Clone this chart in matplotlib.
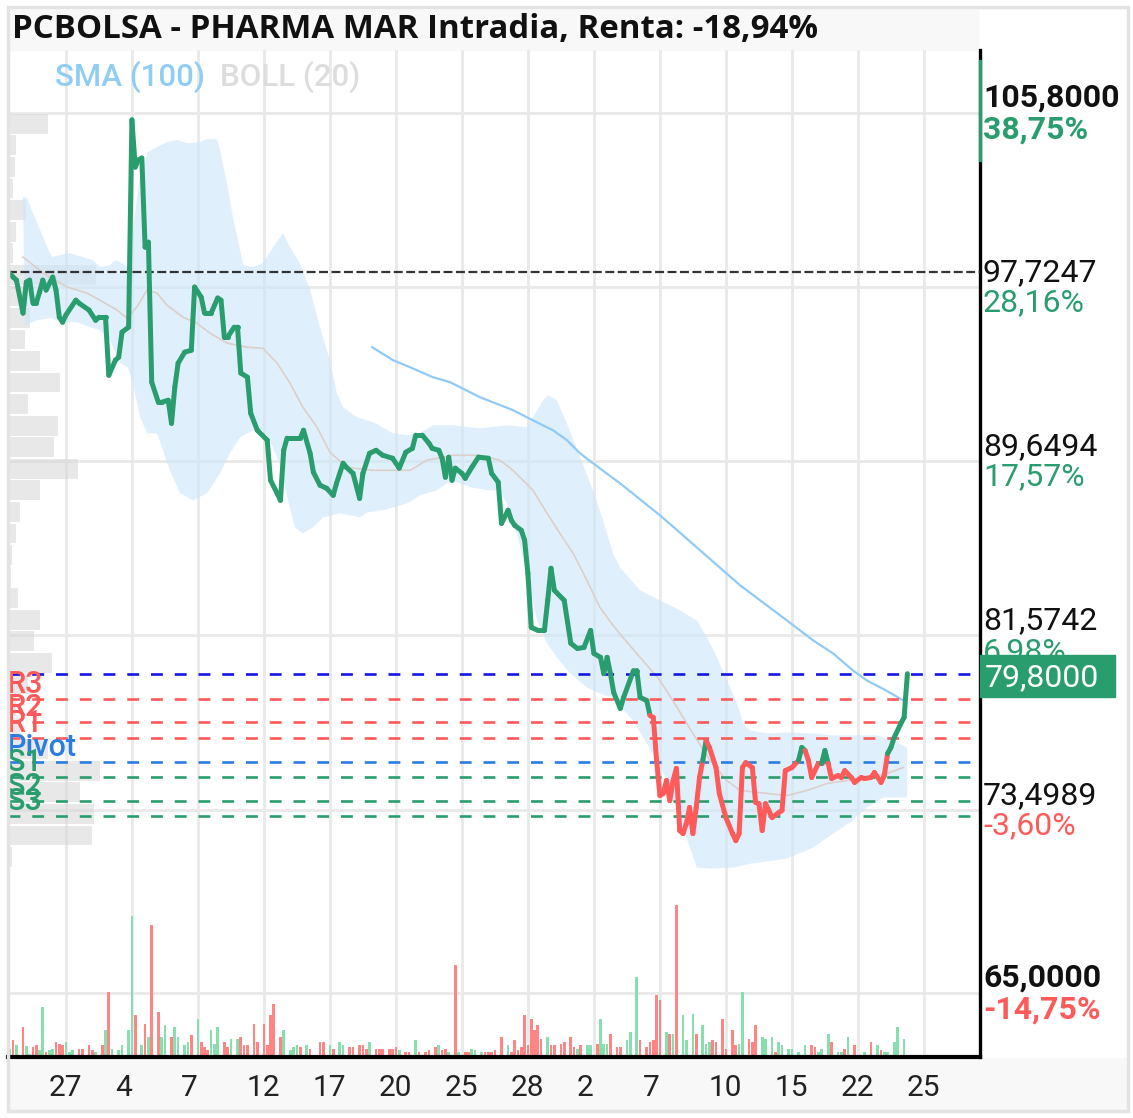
import matplotlib.pyplot as plt
import matplotlib.transforms as mtransforms
import numpy as np
from matplotlib.collections import LineCollection
from matplotlib.patches import Rectangle

W, H = 1133, 1118
plt.rcParams['font.family'] = ['Roboto', 'DejaVu Sans']

# ---- data -------------------------------------------------------------
title = "PCBOLSA - PHARMA MAR Intradia, Renta: -18,94%"
tick_pos = [18 + 20 * k for k in range(14)]
tick_lbl = ['27', '4', '7', '12', '17', '20', '25', '28', '2', '7', '10', '15', '22', '25']

# price line (session index, price)
t = [0, 2, 3, 5, 6, 7, 8, 9, 10, 11, 12, 14, 15, 16, 17, 18, 21, 22, 25, 27, 28, 30, 31, 33, 34, 35, 37,
     38, 39, 40, 41, 42, 43, 44, 46, 47, 49, 50, 51, 52, 54, 56, 57, 59, 60, 62, 64, 65, 66, 67, 69, 70,
     71, 73, 74, 76, 79, 80, 82, 83, 84, 85, 89, 90, 92, 93, 95, 97, 99, 100, 102, 103, 105, 107, 108,
     110, 112, 114, 117, 119, 121, 123, 124, 126, 128, 129, 131, 132, 133, 134, 135, 136, 138, 139, 141,
     143, 146, 147, 149, 150, 152, 153, 154, 156, 157, 158, 159, 161, 163, 164, 165, 166, 169, 171, 173,
     175, 177, 178, 180, 181, 182, 183, 184, 186, 187, 190, 191, 192, 194, 195, 196, 197, 198, 199, 200,
     201, 202, 203, 204, 205, 206, 207, 208, 209, 210, 211, 212, 213, 215, 216, 218, 220, 221, 222, 223,
     224, 226, 227, 228, 229, 230, 231, 232, 234, 235, 236, 238, 240, 241, 242, 243, 244, 246, 247, 248,
     249, 250, 252, 253, 254, 256, 257, 259, 260, 262, 263, 265, 266, 267, 268, 269, 271, 272, 273]
close = [98.52, 98.19, 98.05, 96.52, 97.96, 98.05, 96.98, 96.98, 97.49, 98.05, 97.59, 98.19, 97.59, 96.33,
         96.10, 96.43, 97.12, 96.98, 96.66, 96.19, 96.33, 96.33, 93.64, 94.34, 94.48, 95.64, 95.87,
         105.48, 103.29, 103.62, 103.71, 99.58, 99.81, 93.32, 92.39, 92.39, 92.48, 91.41, 93.09, 94.20,
         94.71, 94.80, 97.73, 97.26, 96.52, 96.52, 97.22, 97.12, 95.41, 95.41, 95.87, 95.87,
         93.74, 93.55, 91.88, 91.09, 90.63, 88.77, 88.17, 87.84, 90.16, 90.72, 90.72, 91.09, 90.02, 89.14,
         88.54, 88.40, 88.07, 88.63, 89.56, 89.37, 89.09, 87.93, 89.09,
         90.02, 90.16, 89.93, 89.79, 89.33, 90.07, 90.25, 90.86, 90.86, 90.49, 90.25, 90.16, 89.79, 88.91,
         89.84, 88.77, 89.33, 89.09, 88.86, 89.37,
         89.84, 89.79, 89.09, 88.68, 86.77, 87.38, 86.91, 86.68, 86.45, 85.99, 84.45, 81.95, 81.81, 81.81,
         83.20, 84.69, 83.67, 83.20, 81.21, 80.97,
         81.02, 81.81, 80.74, 80.56, 79.81, 80.56, 79.81, 78.93, 78.19, 78.70, 79.95, 79.95, 78.70, 78.56,
         77.87, 77.77, 75.78, 74.15, 74.25, 74.85,
         73.92, 74.85, 75.41, 72.53, 72.39, 72.85, 73.60, 72.39, 73.60, 74.99, 75.78, 76.71, 76.38, 75.45,
         74.25, 73.13, 72.39, 72.06, 72.39, 75.45,
         75.68, 75.45, 73.83, 73.78, 72.53, 73.78, 73.46, 73.13, 73.36, 73.46, 75.31, 75.45, 75.78, 76.38,
         76.24, 75.78, 74.99, 75.64, 75.64, 76.24,
         75.64, 74.94, 75.08, 74.99, 75.31, 74.99, 74.76, 74.99, 74.94, 74.99, 75.22, 74.76, 75.08, 76.10,
         76.38, 76.84, 77.49, 77.77, 79.80]
red_spans = [(195, 211), (212, 240), (242, 247), (249, 267)]

# Bollinger (20) upper / lower / middle, SMA (100)
up_t = [5.0, 6.2, 8.0, 10.2, 12.3, 13.8, 16.2, 19.2, 23.2, 26.2, 28.3, 31.4, 32.9, 34.4, 36.8, 38.9, 40.5,
        42.9, 45.6, 48.6, 51.7, 54.7, 56.5, 58.6, 60.8, 63.8, 64.7, 66.8, 68.6, 70.8, 71.7, 74.7, 77.7,
        80.8, 83.8, 85.9, 88.9, 92.0, 95.0, 98.0, 100.1, 102.0, 106.2, 111.1, 117.1, 121.4, 125.3, 129.2,
        135.3, 143.5, 151.7, 157.7, 160.2, 162.6, 164.1, 166.8, 169.8, 173.8, 177.7, 180.8, 183.8, 185.9,
        192.0, 198.0, 204.1, 209.2, 212.3, 215.3, 218.3, 221.4, 223.2, 225.3, 230.5, 236.5, 244.4, 250.5,
        256.5, 263.8, 268.6, 272.9]
up_p = [101.90, 101.86, 101.16, 100.37, 99.58, 99.12, 99.21, 99.30, 99.12, 98.98, 98.66, 98.75, 98.98,
        98.89, 98.66, 101.07, 102.92, 103.99, 104.22, 104.45, 104.55, 104.41, 104.41, 104.45, 104.59,
        104.59, 104.08, 102.55, 100.97, 99.44, 98.75, 98.66, 98.84, 99.58, 100.23, 99.58, 98.84, 97.59,
        95.87, 94.34, 92.81, 92.16, 91.69, 91.46, 90.95, 90.86, 90.95, 91.32, 91.32, 91.18, 91.32, 91.23,
        91.88, 92.48, 92.71, 92.48, 91.41, 89.84, 88.31, 86.91, 85.38, 84.73, 83.67, 83.20, 82.74, 82.27,
        81.48, 80.56, 79.49, 78.42, 77.49, 77.17, 77.03, 77.08, 77.03, 76.94, 76.94, 76.94, 76.71, 76.38]
lo_t = [5.6, 9.2, 13.2, 17.1, 21.4, 25.3, 28.3, 31.4, 34.4, 36.8, 38.3, 40.5, 42.6, 45.6, 47.4, 49.5, 52.6,
        56.5, 60.8, 64.7, 67.7, 70.8, 74.7, 77.7, 79.8, 82.9, 85.3, 87.4, 89.8, 92.9, 95.9, 101.1, 107.1,
        109.2, 114.1, 121.4, 125.3, 130.5, 133.5, 136.5, 140.5, 145.6, 149.5, 152.6, 155.6, 158.6, 160.8,
        163.8, 166.8, 170.8, 175.9, 179.8, 183.8, 189.8, 195.9, 200.2, 204.1, 207.1, 209.2, 213.2, 220.2,
        225.3, 232.3, 236.5, 244.4, 250.5, 256.5, 260.7, 265.6, 272.9]
lo_p = [95.96, 96.19, 96.29, 96.10, 96.10, 95.87, 95.73, 95.27, 94.20, 94.01, 93.27, 91.69, 90.95, 90.95,
        90.16, 89.23, 88.17, 87.84, 88.17, 89.09, 90.02, 90.77, 91.09, 91.09, 90.63, 89.47, 87.84, 86.59,
        86.31, 86.59, 87.05, 87.24, 87.05, 87.28, 87.38, 87.70, 88.07, 88.31, 88.63, 88.68, 88.45, 88.31,
        88.31, 87.38, 85.75, 83.80, 82.27, 81.21, 80.56, 79.81, 79.16, 78.88, 78.70, 77.63, 76.10, 74.85,
        72.99, 71.74, 70.81, 70.77, 70.81, 70.99, 71.14, 71.23, 71.74, 72.39, 73.00, 73.60, 74.06, 74.06]
mid_t = [5.0, 11.1, 18.3, 24.4, 28.3, 33.5, 36.5, 39.5, 42.6, 45.6, 48.6, 53.5, 57.7, 61.7, 66.8, 72.9, 77.7,
         82.0, 85.9, 89.8, 94.1, 98.0, 103.2, 111.1, 122.3, 127.4, 135.3, 143.5, 149.5, 153.5, 159.5, 163.8,
         167.7, 171.7, 175.9, 179.8, 183.8, 186.8, 192.0, 198.0, 203.2, 208.0, 213.2, 218.3, 222.3, 230.5,
         236.5, 242.6, 248.6, 254.7, 260.7, 266.8, 271.7]
mid_p = [99.12, 98.38, 97.73, 97.45, 97.12, 96.66, 96.29, 96.80, 97.59, 97.45, 96.89, 96.33, 96.05, 95.59,
         95.13, 94.94, 94.89, 94.20, 93.27, 92.16, 91.23, 90.07, 89.37, 89.23, 89.23, 89.70, 89.93, 89.93,
         89.70, 89.23, 88.31, 87.24, 86.31, 85.38, 84.13, 82.88, 82.04, 81.48, 80.56, 79.49, 78.24, 77.03,
         75.78, 74.85, 74.39, 74.25, 74.15, 74.39, 74.71, 74.85, 74.99, 75.17, 75.45]
sma_t = [110.8, 117.1, 122.3, 129.2, 134.4, 143.5, 153.5, 159.5, 165.6, 169.8, 173.8, 177.7, 185.9, 198.0,
         210.2, 222.3, 236.5, 244.4, 250.5, 256.5, 260.7, 266.6, 271.8, 272.3]
sma_p = [94.94, 94.34, 94.01, 93.55, 93.32, 92.62, 92.02, 91.55, 91.09, 90.63, 90.02, 89.56, 88.63, 87.15,
         85.52, 83.90, 82.27, 81.35, 80.74, 79.95, 79.49, 79.02, 78.56, 78.42]

# volume by session: up sessions / down sessions
vol_g = {1: 8, 3: 12, 6: 11, 7: 3, 10: 7, 11: 50, 13: 7, 14: 8, 18: 15, 19: 5, 20: 7, 27: 5, 30: 27, 32: 8,
         34: 7, 35: 12, 37: 27, 38: 141, 41: 12, 43: 20, 47: 20, 48: 32, 51: 30, 52: 20, 54: 12, 55: 15,
         58: 38, 62: 27, 63: 13, 64: 30, 68: 18, 70: 18, 84: 27, 86: 7, 87: 10, 88: 12, 91: 12, 98: 12,
         101: 15, 102: 12, 110: 15, 119: 7, 124: 17, 131: 12, 134: 5, 137: 5, 141: 8, 142: 7, 144: 5,
         152: 12, 164: 20, 173: 8, 176: 12, 177: 12, 180: 38, 181: 13, 182: 13, 188: 17, 189: 25, 191: 80,
         200: 25, 202: 23, 205: 42, 206: 17, 208: 43, 211: 32, 212: 13, 213: 15, 222: 13, 223: 65, 229: 20,
         230: 18, 232: 20, 234: 15, 235: 12, 237: 8, 238: 8, 240: 5, 242: 12, 246: 5, 247: 8, 249: 23,
         252: 5, 253: 5, 255: 20, 260: 5, 264: 12, 266: 5, 267: 5, 269: 15, 270: 30, 272: 18}
vol_r = {2: 17, 5: 30, 8: 10, 9: 12, 12: 5, 15: 15, 16: 13, 17: 12, 22: 8, 23: 8, 25: 12, 26: 7, 29: 12,
         31: 65, 39: 42, 42: 33, 44: 132, 46: 45, 50: 20, 56: 22, 59: 15, 60: 10, 61: 7, 66: 15, 67: 10,
         71: 20, 72: 12, 73: 12, 75: 33, 76: 15, 78: 33, 79: 12, 80: 42, 81: 53, 83: 20, 89: 10, 92: 8,
         95: 15, 96: 15, 99: 8, 104: 10, 105: 10, 107: 12, 108: 12, 109: 8, 112: 8, 113: 8, 114: 8, 116: 8,
         117: 8, 118: 10, 121: 5, 122: 5, 125: 5, 127: 5, 128: 7, 130: 10, 132: 7, 133: 8, 136: 92, 139: 5,
         140: 5, 145: 5, 146: 5, 147: 5, 148: 7, 150: 20, 153: 5, 154: 17, 155: 7, 156: 10, 157: 42, 158: 12,
         159: 38, 160: 27, 161: 32, 162: 18, 165: 12, 166: 12, 168: 13, 169: 15, 171: 20, 172: 10, 174: 12,
         179: 13, 183: 23, 185: 10, 186: 10, 192: 17, 194: 10, 195: 15, 196: 17, 197: 62, 198: 57, 201: 23,
         203: 152, 209: 23, 214: 17, 215: 15, 217: 38, 218: 8, 220: 27, 221: 12, 225: 18, 226: 15, 227: 32,
         233: 5, 244: 12, 245: 10, 250: 15, 254: 8, 257: 12, 262: 15, 265: 7}

# volume profile by price
prof_price = [105.3, 104.3, 103.3, 102.3, 101.3, 100.3, 99.3, 98.3, 97.3, 96.3, 95.3, 94.3, 93.3, 92.3,
              91.3, 90.3, 89.3, 88.3, 87.3, 86.3, 85.3, 84.3, 83.3, 82.3, 81.3, 80.3, 79.3, 78.3, 77.3,
              76.3, 75.3, 74.3, 73.3, 72.3, 71.3]
prof_vol = [40, 8, 7, 5, 18, 8, 5, 88, 20, 22, 17, 32, 52, 20, 50, 46, 70, 32, 12, 8, 4, 3, 10, 32, 26, 44,
            20, 8, 12, 40, 92, 72, 86, 84, 4]

start_price = 98.45
last_price = 79.80
session_range = (103.62, 108.2)
pivot_names = ['R3', 'R2', 'R1', 'Pivot', 'S1', 'S2', 'S3']
pivot_vals = [78.65, 77.54, 76.84, 75.73, 74.99, 73.92, 73.22]

y_ticks = [105.8, 97.7247, 89.6494, 81.5742, 73.4989, 65.0]
y_pct = ['38,75%', '28,16%', '17,57%', '6,98%', '-3,60%', '-14,75%']

GREEN = '#2a9d6e'
RED = '#ff5a5a'
BLUE = '#2b7de0'

# ---- figure -----------------------------------------------------------
fig = plt.figure(figsize=(W / 100, H / 100), dpi=100)
fig.patches.append(Rectangle((10 / W, 1 - 50 / H), 968 / W, 40 / H, transform=fig.transFigure,
                             color='#f8f8f8', zorder=-2))
fig.patches.append(Rectangle((10 / W, 8 / H), 1116 / W, 52 / H, transform=fig.transFigure,
                             color='#f8f8f8', zorder=-2))
fig.patches.append(Rectangle((8 / W, 7 / H), 1120 / W, 1104 / H, transform=fig.transFigure,
                             fill=False, edgecolor='#e3e3e3', lw=2.5, zorder=5))
fig.text(12 / W, 1 - 29 / H, title, family='Open Sans', weight='bold', fontsize=23.8,
         va='center', ha='left', color='#111')

ax = fig.add_axes([8 / W, (H - 1057) / H, 972 / W, 1007 / H])
ax.patch.set_alpha(0)
ax.set_xlim(0.45, 295)
ax.set_ylim(62.03, 108.72)
ax.set_axisbelow(True)
ax.grid(True, color='#e9e9e9', lw=2)
ax.set_xticks(tick_pos)
ax.set_xticklabels(tick_lbl)
ax.set_yticks(y_ticks)
ax.tick_params(axis='x', length=0, pad=12, labelsize=21.5, labelcolor='#222')
ax.tick_params(axis='y', length=0, labelleft=False, labelright=False)
shift = mtransforms.ScaledTranslation(-17 / 100, 0, fig.dpi_scale_trans)
for lbl in ax.get_xticklabels():
    lbl.set_horizontalalignment('left')
    lbl.set_transform(lbl.get_transform() + shift)
for s in ['left', 'top']:
    ax.spines[s].set_visible(False)
ax.spines['right'].set_linewidth(2.4)
ax.spines['bottom'].set_linewidth(3)

# volume profile
ax.barh(prof_price, np.array(prof_vol) / 972, height=0.92, left=0, color='#d6d6d6', alpha=0.55,
        transform=ax.get_yaxis_transform(), zorder=1)

# bollinger band
ax.fill(np.r_[up_t, lo_t[::-1]], np.r_[up_p, lo_p[::-1]], color='#cbe6fa', alpha=0.6, lw=0, zorder=1.5)
ax.plot(mid_t, mid_p, color='#dccfca', lw=1.2, zorder=2)
ax.plot(sma_t, sma_p, color='#90caf9', lw=1.6, zorder=2)

# volume bars
gk = sorted(vol_g)
rk = sorted(vol_r)
ax.bar(gk, [vol_g[k] / 1007 for k in gk], width=0.8, color='#86dfad', transform=ax.get_xaxis_transform(),
       zorder=2)
ax.bar(rk, [vol_r[k] / 1007 for k in rk], width=0.8, color='#ff8585', transform=ax.get_xaxis_transform(),
       zorder=2)

# start price and pivots
ax.axhline(start_price, color='#333', lw=1.6, dashes=(4, 1.6), zorder=3)
ax.axhline(last_price, color='#1515e6', lw=1.9, dashes=(4.5, 4.5), zorder=3)
for name, v in zip(pivot_names, pivot_vals):
    c = RED if name.startswith('R') else (BLUE if name == 'Pivot' else GREEN)
    ax.axhline(v, color=c, lw=1.9, dashes=(4.5, 4.5), zorder=3)
    ax.text(-1 / 972, v, name, color=c, fontsize=22, weight='medium', va='bottom', ha='left',
            transform=ax.get_yaxis_transform(), zorder=4, clip_on=False)

# price line
pts = np.column_stack([t, close])
segs = np.stack([pts[:-1], pts[1:]], axis=1)
cols = []
for a, b in zip(t[:-1], t[1:]):
    red = any(lo <= a and b <= hi for lo, hi in red_spans)
    cols.append(RED if red else GREEN)
ax.add_collection(LineCollection(segs, colors=cols, linewidths=3.6, capstyle='round',
                                 joinstyle='round', zorder=5))

# legend text
ax.text(47 / 972, 1 - 27 / 1007, 'SMA (100)', color='#90cdf4', fontsize=22.5, weight='medium',
        transform=ax.transAxes, va='center', ha='left')
ax.text(212 / 972, 1 - 27 / 1007, 'BOLL (20)', color='#dddddd', fontsize=22.5, weight='medium',
        transform=ax.transAxes, va='center', ha='left')

# right-hand labels
tr = ax.get_yaxis_transform()
xr = 1 + 3 / 972
ax.plot([1, 1], session_range, transform=tr, color=GREEN, lw=2.4, clip_on=False, zorder=6)
for i, (v, pc) in enumerate(zip(y_ticks, y_pct)):
    bold = i in (0, len(y_ticks) - 1)
    w = 'bold' if bold else 'normal'
    ax.text(xr, v, f"{v:.4f}".replace('.', ','), transform=tr, fontsize=23, weight=w, color='#111',
            va='bottom', ha='left', clip_on=False)
    ax.text(xr, v - 0.06, pc, transform=tr, fontsize=23, weight=w,
            color=RED if pc.startswith('-') else GREEN, va='top', ha='left', clip_on=False)

ax.add_patch(Rectangle((1.0, last_price - 1.07), 135 / 972, 1.95, transform=tr, color=GREEN,
                       clip_on=False, zorder=6))
ax.text(xr + 2 / 972, last_price - 0.2, f"{last_price:.4f}".replace('.', ','), transform=tr, fontsize=23,
        color='white', va='center', ha='left', clip_on=False, zorder=7)

fig.savefig('out.png', dpi=100)
